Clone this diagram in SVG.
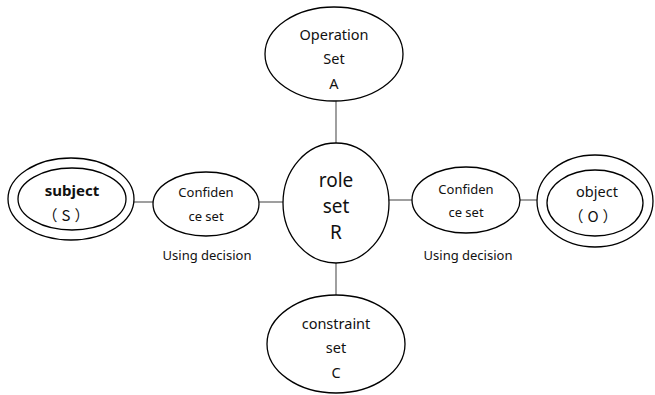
<svg xmlns="http://www.w3.org/2000/svg" width="655" height="395" viewBox="0 0 655 395">
<style>
.n{fill:#fff;stroke:#000;stroke-width:1.3}
.t{font-family:"Noto Sans","Noto Sans CJK SC",sans-serif;font-size:14.5px;fill:#111;text-anchor:middle}
.p{font-family:"Noto Sans CJK SC",sans-serif;font-size:15px;letter-spacing:4px}
.big{font-size:19px}
.s{font-size:13px}
.b{font-weight:bold;font-size:15px}
.c{stroke:#888;stroke-width:1.6;fill:none}
</style>
<rect width="655" height="395" fill="#fff"/>
<g id="connectors">
<line class="c" x1="336" y1="100" x2="336" y2="143"/>
<line class="c" x1="336" y1="263" x2="336" y2="296"/>
<line class="c" x1="133" y1="202" x2="153" y2="202"/>
<line class="c" x1="259" y1="202" x2="283" y2="202"/>
<line class="c" x1="388" y1="200" x2="412" y2="200"/>
<line class="c" x1="520" y1="200" x2="537" y2="200"/>
</g>
<g id="operation">
<ellipse class="n" cx="334" cy="54" rx="69" ry="47"/>
<text class="t" x="334" y="40">Operation</text>
<text class="t" x="334" y="64">Set</text>
<text class="t" x="334" y="89">A</text>
</g>
<g id="role">
<ellipse class="n" cx="336" cy="203" rx="53" ry="60"/>
<text class="t big" x="336" y="187">role</text>
<text class="t big" x="336" y="213">set</text>
<text class="t big" x="336" y="239">R</text>
</g>
<g id="constraint">
<ellipse class="n" cx="336" cy="344" rx="69" ry="49"/>
<text class="t" x="336" y="329">constraint</text>
<text class="t" x="336" y="353">set</text>
<text class="t" x="336" y="378">C</text>
</g>
<g id="subject">
<ellipse class="n" cx="71" cy="199" rx="63" ry="41"/>
<ellipse class="n" cx="72" cy="199" rx="54" ry="31"/>
<text class="t b" x="72" y="196">subject</text>
<text class="t p" x="68" y="221">（S）</text>
</g>
<g id="confidence-left">
<ellipse class="n" cx="206" cy="204" rx="53" ry="32"/>
<text class="t s" x="206" y="197">Confiden</text>
<text class="t s" x="206" y="221">ce set</text>
</g>
<text class="t s" x="207" y="260">Using decision</text>
<g id="confidence-right">
<ellipse class="n" cx="466" cy="200" rx="54" ry="33"/>
<text class="t s" x="466" y="194">Confiden</text>
<text class="t s" x="466" y="217">ce set</text>
</g>
<text class="t s" x="468" y="260">Using decision</text>
<g id="object">
<ellipse class="n" cx="595" cy="201" rx="58" ry="46"/>
<ellipse class="n" cx="595" cy="203" rx="48" ry="33"/>
<text class="t" x="597" y="197">object</text>
<text class="t p" x="595" y="222">（O）</text>
</g>
</svg>
